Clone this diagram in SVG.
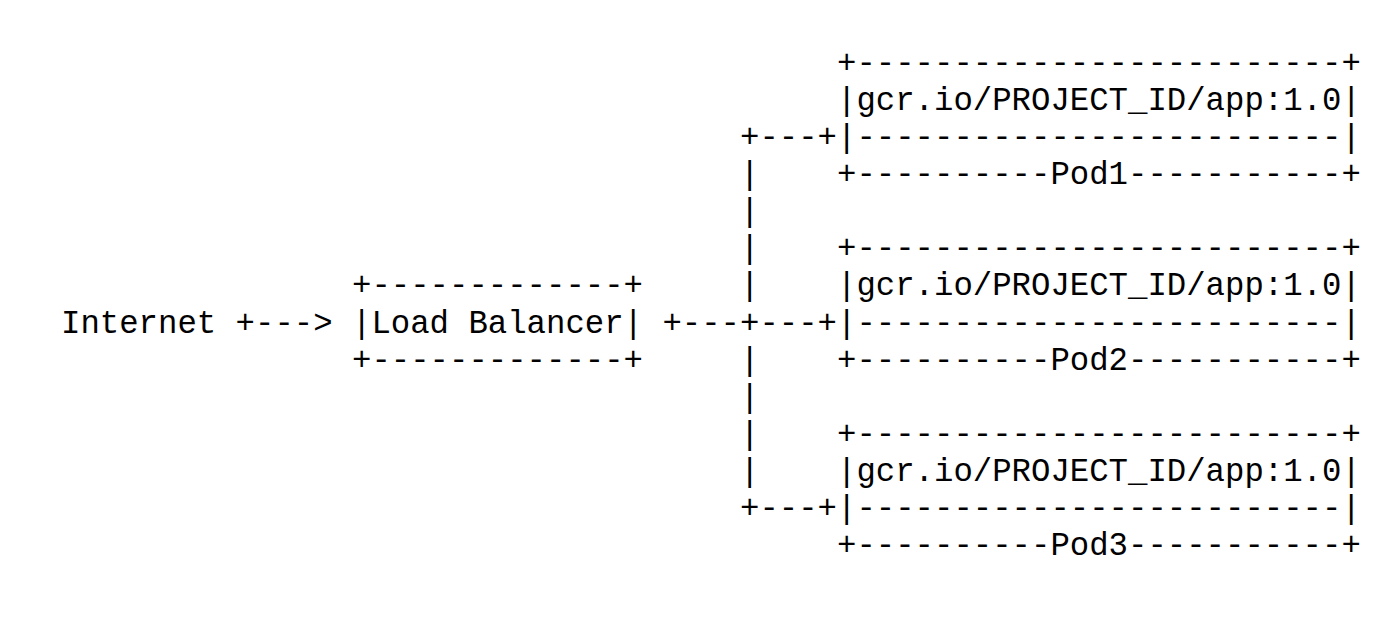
<svg xmlns="http://www.w3.org/2000/svg" width="1400" height="619" viewBox="0 0 1400 619">
<style>
text{font-family:"Liberation Mono","DejaVu Sans Mono",monospace;font-size:32.33px;fill:#000;white-space:pre}
</style>
<rect width="1400" height="619" fill="#fff"/>
<g id="internet"><text x="61" y="332.56">Internet</text></g>
<g id="load-balancer">
<text x="352" y="295.48">+-------------+</text>
<text x="352" y="332.56">|Load Balancer|</text>
<text x="352" y="369.64">+-------------+</text>
</g>
<g id="connectors">
<text x="235.6" y="332.56">+---&gt;</text>
<text x="662.4" y="332.56">+---+---+</text>
<text x="740" y="147.16">+---+</text>
<text x="740" y="517.96">+---+</text>
<text x="740" y="184.24">|</text>
<text x="740" y="221.32">|</text>
<text x="740" y="258.4">|</text>
<text x="740" y="295.48">|</text>
<text x="740" y="369.64">|</text>
<text x="740" y="406.72">|</text>
<text x="740" y="443.8">|</text>
<text x="740" y="480.88">|</text>
</g>
<g id="pod1">
<text x="837" y="73">+-------------------------+</text>
<text x="837" y="110.08">|gcr.io/PROJECT_ID/app:1.0|</text>
<text x="837" y="147.16">|-------------------------|</text>
<text x="837" y="184.24">+----------Pod1-----------+</text>
</g>
<g id="pod2">
<text x="837" y="258.4">+-------------------------+</text>
<text x="837" y="295.48">|gcr.io/PROJECT_ID/app:1.0|</text>
<text x="837" y="332.56">|-------------------------|</text>
<text x="837" y="369.64">+----------Pod2-----------+</text>
</g>
<g id="pod3">
<text x="837" y="443.8">+-------------------------+</text>
<text x="837" y="480.88">|gcr.io/PROJECT_ID/app:1.0|</text>
<text x="837" y="517.96">|-------------------------|</text>
<text x="837" y="555.04">+----------Pod3-----------+</text>
</g>
</svg>
